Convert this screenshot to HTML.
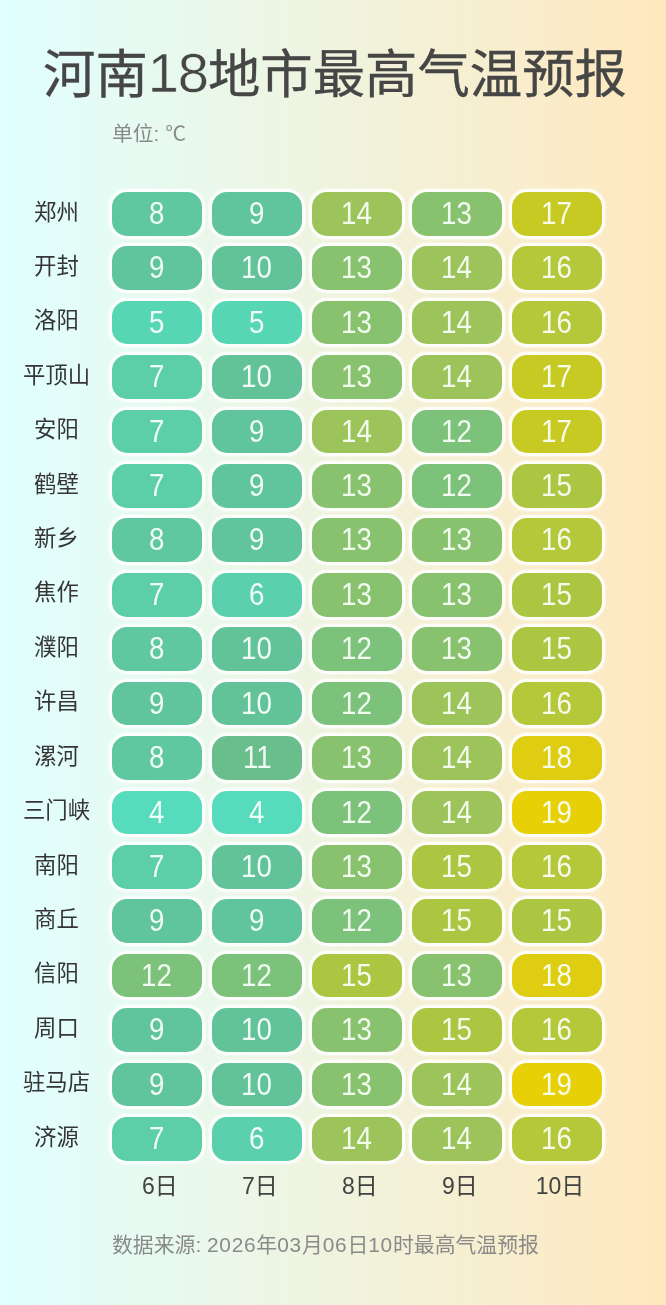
<!DOCTYPE html><html lang="zh-CN"><head><meta charset="utf-8"><title>河南18地市最高气温预报</title><style>
html,body{margin:0;padding:0}
body{width:666px;height:1305px;overflow:hidden;position:relative;
 background:linear-gradient(90deg,#e0ffff 0%,#ffe8be 100%);
 font-family:"Liberation Sans","Noto Sans CJK SC",sans-serif;}
.t{position:absolute;white-space:nowrap;line-height:1}
#title{left:2px;width:666px;text-align:center;top:46px;font-size:52.4px;color:#464646;font-weight:400;-webkit-text-stroke:0.35px #464646;letter-spacing:0px}
#unit{left:112px;top:123.7px;font-size:20.8px;color:#8a8a8a}
#foot{left:112px;top:1235.3px;font-size:20.85px;color:#8a8a8a}
#foot span{letter-spacing:0.75px}
.city{position:absolute;left:0;width:113px;text-align:center;font-size:22.4px;color:#353535;line-height:43.7px;height:43.7px;white-space:nowrap}
.c{position:absolute;width:89.6px;height:43.7px;border-radius:15px;
  box-shadow:0 0 0 3.1px rgba(255,255,255,.78),0 0 1.5px 3.6px rgba(255,255,255,.35);
  color:rgba(250,255,250,.93);-webkit-text-stroke-width:0px;font-size:31.5px;line-height:43.7px;text-align:center}
.c span{display:inline-block;position:relative;top:0px;transform:scaleX(0.88)}
.city span{position:relative;top:-1.4px}
.day{position:absolute;width:89.6px;text-align:center;font-size:23px;color:#424242;line-height:1;top:1175.4px;white-space:nowrap}
</style></head><body>
<div class="t" id="title">河南<span style="font-size:56px;letter-spacing:-1.1px;position:relative;top:-1px;-webkit-text-stroke:0.5px rgb(232,249,237)">18</span>地市最高气温预报</div>
<div class="t" id="unit">单位: ℃</div>
<div class="city" style="top:191.90px"><span>郑州</span></div>
<div class="c" style="left:112.20px;top:191.90px;background:rgb(96,200,160);-webkit-text-stroke-color:rgb(96,200,160)"><span>8</span></div>
<div class="c" style="left:212.20px;top:191.90px;background:rgb(96,196,156);-webkit-text-stroke-color:rgb(96,196,156)"><span>9</span></div>
<div class="c" style="left:312.20px;top:191.90px;background:rgb(156,196,90);-webkit-text-stroke-color:rgb(156,196,90)"><span>14</span></div>
<div class="c" style="left:412.20px;top:191.90px;background:rgb(136,194,110);-webkit-text-stroke-color:rgb(136,194,110)"><span>13</span></div>
<div class="c" style="left:512.20px;top:191.90px;background:rgb(200,202,36);-webkit-text-stroke-color:rgb(200,202,36)"><span>17</span></div>
<div class="city" style="top:246.32px"><span>开封</span></div>
<div class="c" style="left:112.20px;top:246.32px;background:rgb(96,196,156);-webkit-text-stroke-color:rgb(96,196,156)"><span>9</span></div>
<div class="c" style="left:212.20px;top:246.32px;background:rgb(98,194,152);-webkit-text-stroke-color:rgb(98,194,152)"><span>10</span></div>
<div class="c" style="left:312.20px;top:246.32px;background:rgb(136,194,110);-webkit-text-stroke-color:rgb(136,194,110)"><span>13</span></div>
<div class="c" style="left:412.20px;top:246.32px;background:rgb(156,196,90);-webkit-text-stroke-color:rgb(156,196,90)"><span>14</span></div>
<div class="c" style="left:512.20px;top:246.32px;background:rgb(180,200,58);-webkit-text-stroke-color:rgb(180,200,58)"><span>16</span></div>
<div class="city" style="top:300.74px"><span>洛阳</span></div>
<div class="c" style="left:112.20px;top:300.74px;background:rgb(86,214,178);-webkit-text-stroke-color:rgb(86,214,178)"><span>5</span></div>
<div class="c" style="left:212.20px;top:300.74px;background:rgb(86,214,178);-webkit-text-stroke-color:rgb(86,214,178)"><span>5</span></div>
<div class="c" style="left:312.20px;top:300.74px;background:rgb(136,194,110);-webkit-text-stroke-color:rgb(136,194,110)"><span>13</span></div>
<div class="c" style="left:412.20px;top:300.74px;background:rgb(156,196,90);-webkit-text-stroke-color:rgb(156,196,90)"><span>14</span></div>
<div class="c" style="left:512.20px;top:300.74px;background:rgb(180,200,58);-webkit-text-stroke-color:rgb(180,200,58)"><span>16</span></div>
<div class="city" style="top:355.16px"><span>平顶山</span></div>
<div class="c" style="left:112.20px;top:355.16px;background:rgb(92,206,168);-webkit-text-stroke-color:rgb(92,206,168)"><span>7</span></div>
<div class="c" style="left:212.20px;top:355.16px;background:rgb(98,194,152);-webkit-text-stroke-color:rgb(98,194,152)"><span>10</span></div>
<div class="c" style="left:312.20px;top:355.16px;background:rgb(136,194,110);-webkit-text-stroke-color:rgb(136,194,110)"><span>13</span></div>
<div class="c" style="left:412.20px;top:355.16px;background:rgb(156,196,90);-webkit-text-stroke-color:rgb(156,196,90)"><span>14</span></div>
<div class="c" style="left:512.20px;top:355.16px;background:rgb(200,202,36);-webkit-text-stroke-color:rgb(200,202,36)"><span>17</span></div>
<div class="city" style="top:409.58px"><span>安阳</span></div>
<div class="c" style="left:112.20px;top:409.58px;background:rgb(92,206,168);-webkit-text-stroke-color:rgb(92,206,168)"><span>7</span></div>
<div class="c" style="left:212.20px;top:409.58px;background:rgb(96,196,156);-webkit-text-stroke-color:rgb(96,196,156)"><span>9</span></div>
<div class="c" style="left:312.20px;top:409.58px;background:rgb(156,196,90);-webkit-text-stroke-color:rgb(156,196,90)"><span>14</span></div>
<div class="c" style="left:412.20px;top:409.58px;background:rgb(124,194,122);-webkit-text-stroke-color:rgb(124,194,122)"><span>12</span></div>
<div class="c" style="left:512.20px;top:409.58px;background:rgb(200,202,36);-webkit-text-stroke-color:rgb(200,202,36)"><span>17</span></div>
<div class="city" style="top:464.00px"><span>鹤壁</span></div>
<div class="c" style="left:112.20px;top:464.00px;background:rgb(92,206,168);-webkit-text-stroke-color:rgb(92,206,168)"><span>7</span></div>
<div class="c" style="left:212.20px;top:464.00px;background:rgb(96,196,156);-webkit-text-stroke-color:rgb(96,196,156)"><span>9</span></div>
<div class="c" style="left:312.20px;top:464.00px;background:rgb(136,194,110);-webkit-text-stroke-color:rgb(136,194,110)"><span>13</span></div>
<div class="c" style="left:412.20px;top:464.00px;background:rgb(124,194,122);-webkit-text-stroke-color:rgb(124,194,122)"><span>12</span></div>
<div class="c" style="left:512.20px;top:464.00px;background:rgb(172,198,66);-webkit-text-stroke-color:rgb(172,198,66)"><span>15</span></div>
<div class="city" style="top:518.42px"><span>新乡</span></div>
<div class="c" style="left:112.20px;top:518.42px;background:rgb(96,200,160);-webkit-text-stroke-color:rgb(96,200,160)"><span>8</span></div>
<div class="c" style="left:212.20px;top:518.42px;background:rgb(96,196,156);-webkit-text-stroke-color:rgb(96,196,156)"><span>9</span></div>
<div class="c" style="left:312.20px;top:518.42px;background:rgb(136,194,110);-webkit-text-stroke-color:rgb(136,194,110)"><span>13</span></div>
<div class="c" style="left:412.20px;top:518.42px;background:rgb(136,194,110);-webkit-text-stroke-color:rgb(136,194,110)"><span>13</span></div>
<div class="c" style="left:512.20px;top:518.42px;background:rgb(180,200,58);-webkit-text-stroke-color:rgb(180,200,58)"><span>16</span></div>
<div class="city" style="top:572.84px"><span>焦作</span></div>
<div class="c" style="left:112.20px;top:572.84px;background:rgb(92,206,168);-webkit-text-stroke-color:rgb(92,206,168)"><span>7</span></div>
<div class="c" style="left:212.20px;top:572.84px;background:rgb(90,208,172);-webkit-text-stroke-color:rgb(90,208,172)"><span>6</span></div>
<div class="c" style="left:312.20px;top:572.84px;background:rgb(136,194,110);-webkit-text-stroke-color:rgb(136,194,110)"><span>13</span></div>
<div class="c" style="left:412.20px;top:572.84px;background:rgb(136,194,110);-webkit-text-stroke-color:rgb(136,194,110)"><span>13</span></div>
<div class="c" style="left:512.20px;top:572.84px;background:rgb(172,198,66);-webkit-text-stroke-color:rgb(172,198,66)"><span>15</span></div>
<div class="city" style="top:627.26px"><span>濮阳</span></div>
<div class="c" style="left:112.20px;top:627.26px;background:rgb(96,200,160);-webkit-text-stroke-color:rgb(96,200,160)"><span>8</span></div>
<div class="c" style="left:212.20px;top:627.26px;background:rgb(98,194,152);-webkit-text-stroke-color:rgb(98,194,152)"><span>10</span></div>
<div class="c" style="left:312.20px;top:627.26px;background:rgb(124,194,122);-webkit-text-stroke-color:rgb(124,194,122)"><span>12</span></div>
<div class="c" style="left:412.20px;top:627.26px;background:rgb(136,194,110);-webkit-text-stroke-color:rgb(136,194,110)"><span>13</span></div>
<div class="c" style="left:512.20px;top:627.26px;background:rgb(172,198,66);-webkit-text-stroke-color:rgb(172,198,66)"><span>15</span></div>
<div class="city" style="top:681.68px"><span>许昌</span></div>
<div class="c" style="left:112.20px;top:681.68px;background:rgb(96,196,156);-webkit-text-stroke-color:rgb(96,196,156)"><span>9</span></div>
<div class="c" style="left:212.20px;top:681.68px;background:rgb(98,194,152);-webkit-text-stroke-color:rgb(98,194,152)"><span>10</span></div>
<div class="c" style="left:312.20px;top:681.68px;background:rgb(124,194,122);-webkit-text-stroke-color:rgb(124,194,122)"><span>12</span></div>
<div class="c" style="left:412.20px;top:681.68px;background:rgb(156,196,90);-webkit-text-stroke-color:rgb(156,196,90)"><span>14</span></div>
<div class="c" style="left:512.20px;top:681.68px;background:rgb(180,200,58);-webkit-text-stroke-color:rgb(180,200,58)"><span>16</span></div>
<div class="city" style="top:736.10px"><span>漯河</span></div>
<div class="c" style="left:112.20px;top:736.10px;background:rgb(96,200,160);-webkit-text-stroke-color:rgb(96,200,160)"><span>8</span></div>
<div class="c" style="left:212.20px;top:736.10px;background:rgb(106,190,140);-webkit-text-stroke-color:rgb(106,190,140)"><span>11</span></div>
<div class="c" style="left:312.20px;top:736.10px;background:rgb(136,194,110);-webkit-text-stroke-color:rgb(136,194,110)"><span>13</span></div>
<div class="c" style="left:412.20px;top:736.10px;background:rgb(156,196,90);-webkit-text-stroke-color:rgb(156,196,90)"><span>14</span></div>
<div class="c" style="left:512.20px;top:736.10px;background:rgb(222,205,17);-webkit-text-stroke-color:rgb(222,205,17)"><span>18</span></div>
<div class="city" style="top:790.52px"><span>三门峡</span></div>
<div class="c" style="left:112.20px;top:790.52px;background:rgb(86,220,188);-webkit-text-stroke-color:rgb(86,220,188)"><span>4</span></div>
<div class="c" style="left:212.20px;top:790.52px;background:rgb(86,220,188);-webkit-text-stroke-color:rgb(86,220,188)"><span>4</span></div>
<div class="c" style="left:312.20px;top:790.52px;background:rgb(124,194,122);-webkit-text-stroke-color:rgb(124,194,122)"><span>12</span></div>
<div class="c" style="left:412.20px;top:790.52px;background:rgb(156,196,90);-webkit-text-stroke-color:rgb(156,196,90)"><span>14</span></div>
<div class="c" style="left:512.20px;top:790.52px;background:rgb(232,208,6);-webkit-text-stroke-color:rgb(232,208,6)"><span>19</span></div>
<div class="city" style="top:844.94px"><span>南阳</span></div>
<div class="c" style="left:112.20px;top:844.94px;background:rgb(92,206,168);-webkit-text-stroke-color:rgb(92,206,168)"><span>7</span></div>
<div class="c" style="left:212.20px;top:844.94px;background:rgb(98,194,152);-webkit-text-stroke-color:rgb(98,194,152)"><span>10</span></div>
<div class="c" style="left:312.20px;top:844.94px;background:rgb(136,194,110);-webkit-text-stroke-color:rgb(136,194,110)"><span>13</span></div>
<div class="c" style="left:412.20px;top:844.94px;background:rgb(172,198,66);-webkit-text-stroke-color:rgb(172,198,66)"><span>15</span></div>
<div class="c" style="left:512.20px;top:844.94px;background:rgb(180,200,58);-webkit-text-stroke-color:rgb(180,200,58)"><span>16</span></div>
<div class="city" style="top:899.36px"><span>商丘</span></div>
<div class="c" style="left:112.20px;top:899.36px;background:rgb(96,196,156);-webkit-text-stroke-color:rgb(96,196,156)"><span>9</span></div>
<div class="c" style="left:212.20px;top:899.36px;background:rgb(96,196,156);-webkit-text-stroke-color:rgb(96,196,156)"><span>9</span></div>
<div class="c" style="left:312.20px;top:899.36px;background:rgb(124,194,122);-webkit-text-stroke-color:rgb(124,194,122)"><span>12</span></div>
<div class="c" style="left:412.20px;top:899.36px;background:rgb(172,198,66);-webkit-text-stroke-color:rgb(172,198,66)"><span>15</span></div>
<div class="c" style="left:512.20px;top:899.36px;background:rgb(172,198,66);-webkit-text-stroke-color:rgb(172,198,66)"><span>15</span></div>
<div class="city" style="top:953.78px"><span>信阳</span></div>
<div class="c" style="left:112.20px;top:953.78px;background:rgb(124,194,122);-webkit-text-stroke-color:rgb(124,194,122)"><span>12</span></div>
<div class="c" style="left:212.20px;top:953.78px;background:rgb(124,194,122);-webkit-text-stroke-color:rgb(124,194,122)"><span>12</span></div>
<div class="c" style="left:312.20px;top:953.78px;background:rgb(172,198,66);-webkit-text-stroke-color:rgb(172,198,66)"><span>15</span></div>
<div class="c" style="left:412.20px;top:953.78px;background:rgb(136,194,110);-webkit-text-stroke-color:rgb(136,194,110)"><span>13</span></div>
<div class="c" style="left:512.20px;top:953.78px;background:rgb(222,205,17);-webkit-text-stroke-color:rgb(222,205,17)"><span>18</span></div>
<div class="city" style="top:1008.20px"><span>周口</span></div>
<div class="c" style="left:112.20px;top:1008.20px;background:rgb(96,196,156);-webkit-text-stroke-color:rgb(96,196,156)"><span>9</span></div>
<div class="c" style="left:212.20px;top:1008.20px;background:rgb(98,194,152);-webkit-text-stroke-color:rgb(98,194,152)"><span>10</span></div>
<div class="c" style="left:312.20px;top:1008.20px;background:rgb(136,194,110);-webkit-text-stroke-color:rgb(136,194,110)"><span>13</span></div>
<div class="c" style="left:412.20px;top:1008.20px;background:rgb(172,198,66);-webkit-text-stroke-color:rgb(172,198,66)"><span>15</span></div>
<div class="c" style="left:512.20px;top:1008.20px;background:rgb(180,200,58);-webkit-text-stroke-color:rgb(180,200,58)"><span>16</span></div>
<div class="city" style="top:1062.62px"><span>驻马店</span></div>
<div class="c" style="left:112.20px;top:1062.62px;background:rgb(96,196,156);-webkit-text-stroke-color:rgb(96,196,156)"><span>9</span></div>
<div class="c" style="left:212.20px;top:1062.62px;background:rgb(98,194,152);-webkit-text-stroke-color:rgb(98,194,152)"><span>10</span></div>
<div class="c" style="left:312.20px;top:1062.62px;background:rgb(136,194,110);-webkit-text-stroke-color:rgb(136,194,110)"><span>13</span></div>
<div class="c" style="left:412.20px;top:1062.62px;background:rgb(156,196,90);-webkit-text-stroke-color:rgb(156,196,90)"><span>14</span></div>
<div class="c" style="left:512.20px;top:1062.62px;background:rgb(232,208,6);-webkit-text-stroke-color:rgb(232,208,6)"><span>19</span></div>
<div class="city" style="top:1117.04px"><span>济源</span></div>
<div class="c" style="left:112.20px;top:1117.04px;background:rgb(92,206,168);-webkit-text-stroke-color:rgb(92,206,168)"><span>7</span></div>
<div class="c" style="left:212.20px;top:1117.04px;background:rgb(90,208,172);-webkit-text-stroke-color:rgb(90,208,172)"><span>6</span></div>
<div class="c" style="left:312.20px;top:1117.04px;background:rgb(156,196,90);-webkit-text-stroke-color:rgb(156,196,90)"><span>14</span></div>
<div class="c" style="left:412.20px;top:1117.04px;background:rgb(156,196,90);-webkit-text-stroke-color:rgb(156,196,90)"><span>14</span></div>
<div class="c" style="left:512.20px;top:1117.04px;background:rgb(180,200,58);-webkit-text-stroke-color:rgb(180,200,58)"><span>16</span></div>
<div class="day" style="left:115.20px">6日</div>
<div class="day" style="left:215.20px">7日</div>
<div class="day" style="left:315.20px">8日</div>
<div class="day" style="left:415.20px">9日</div>
<div class="day" style="left:515.20px">10日</div>
<div class="t" id="foot">数据来源: <span>2026</span>年<span>03</span>月<span>06</span>日<span>10</span>时最高气温预报</div>
</body></html>
